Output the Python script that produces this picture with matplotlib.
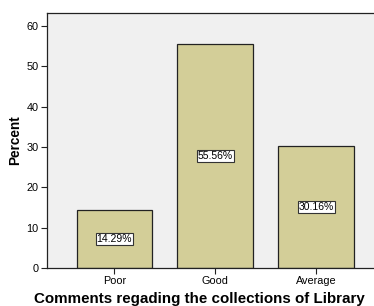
import matplotlib
matplotlib.use("Agg")
import matplotlib.pyplot as plt

categories = ["Poor", "Good", "Average"]
percents = [14.29, 55.56, 30.16]
labels = ["14.29%", "55.56%", "30.16%"]
yticks = [0, 10, 20, 30, 40, 50, 60]

plt.rcParams['font.family'] = ['Liberation Sans', 'DejaVu Sans']

W, H = 374, 306
fig = plt.figure(figsize=(W/100, H/100), dpi=100)
left, right, top, bottom = 47, 383.5, 13, 268
ax = fig.add_axes([left/W, 1 - bottom/H, (right-left)/W, (bottom-top)/H])
ax.set_facecolor("#F0F0F0")
x = list(range(len(categories)))
ax.bar(x, percents, width=0.75, color="#D3CE98", edgecolor="#222222", linewidth=0.9)
for xi, v, lab in zip(x, percents, labels):
    ax.text(xi, v/2, lab, ha="center", va="center", fontsize=7.5,
            bbox=dict(boxstyle="square,pad=0.08", facecolor="white", edgecolor="#333333", linewidth=0.8))
ax.set_xlim(-0.668, 2.668)
ax.set_ylim(0, 63.2)
ax.set_yticks(yticks)
ax.set_xticks(x)
ax.set_xticklabels(categories)
ax.tick_params(axis="both", labelsize=7.8, length=4.5, width=0.8, pad=1.5, color="#222222")
for s in ax.spines.values():
    s.set_color("#222222")
    s.set_linewidth(0.9)
ax.set_ylabel("Percent", fontsize=9.8, fontweight="bold", labelpad=3)
fig.text(199/W, 1 - 299/H, "Comments regading the collections of Library",
         fontsize=10.9, fontweight="bold", ha="center", va="center")
fig.savefig("out.png", dpi=100)
